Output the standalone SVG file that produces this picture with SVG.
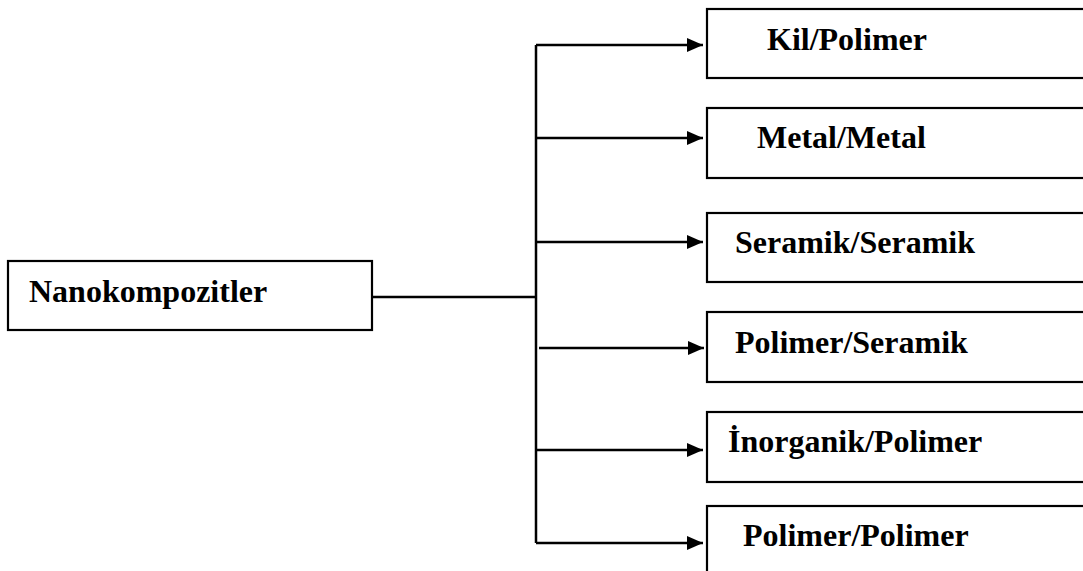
<svg xmlns="http://www.w3.org/2000/svg" width="1083" height="571" viewBox="0 0 1083 571">
<style>
.box{fill:#fff;stroke:#000;stroke-width:2.2}
.lbl{font-family:"Liberation Serif","Times New Roman",serif;font-weight:bold;font-size:32px;fill:#000}
.ln{fill:none;stroke:#000;stroke-width:2.5}
</style>
<defs>
<marker id="ah" markerWidth="16" markerHeight="14" refX="16" refY="7" orient="auto" markerUnits="userSpaceOnUse">
<path d="M0,0 L16,7 L0,14 Z" fill="#000"/>
</marker>
</defs>
<rect width="1083" height="571" fill="#fff"/>
<g id="connectors">
<path class="ln" d="M372,297 H536"/>
<path class="ln" d="M536,45 V543"/>
<path class="ln" d="M536,45 H703" marker-end="url(#ah)"/>
<path class="ln" d="M536,138 H703" marker-end="url(#ah)"/>
<path class="ln" d="M536,242 H703" marker-end="url(#ah)"/>
<path class="ln" d="M539,348 H704" marker-end="url(#ah)"/>
<path class="ln" d="M536,450 H703" marker-end="url(#ah)"/>
<path class="ln" d="M536,543 H703" marker-end="url(#ah)"/>
</g>
<g id="n0"><rect class="box" x="8" y="261" width="364" height="69"/><text class="lbl" x="29" y="302">Nanokompozitler</text></g>
<g id="n1"><rect class="box" x="707" y="9" width="390" height="69"/><text class="lbl" x="767" y="50">Kil/Polimer</text></g>
<g id="n2"><rect class="box" x="707" y="108" width="390" height="70"/><text class="lbl" x="757" y="148">Metal/Metal</text></g>
<g id="n3"><rect class="box" x="707" y="213" width="390" height="69"/><text class="lbl" x="735" y="253">Seramik/Seramik</text></g>
<g id="n4"><rect class="box" x="707" y="312" width="390" height="70"/><text class="lbl" x="735" y="353">Polimer/Seramik</text></g>
<g id="n5"><rect class="box" x="707" y="412" width="390" height="70"/><text class="lbl" x="728" y="452">İnorganik/Polimer</text></g>
<g id="n6"><rect class="box" x="707" y="506" width="390" height="90"/><text class="lbl" x="743" y="546">Polimer/Polimer</text></g>
</svg>
